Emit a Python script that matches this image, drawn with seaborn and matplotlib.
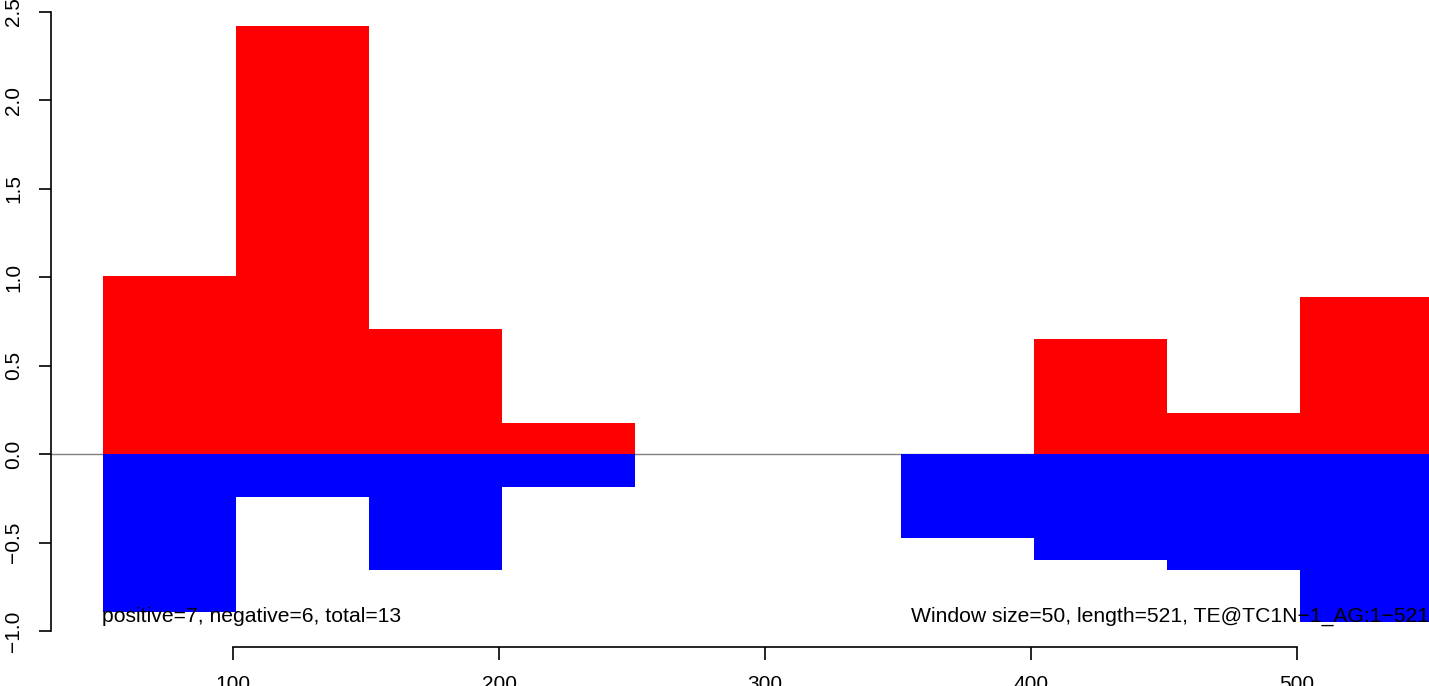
import numpy as np
import matplotlib
matplotlib.use("Agg")
import matplotlib.pyplot as plt
import seaborn as sns

# window centres (window size 50) and the summed scores per window
win_centers = [76, 126, 176, 226, 276, 326, 376, 426, 476, 526]
pos_scores = [1.005, 2.42, 0.705, 0.175, 0.0, 0.0, 0.0, 0.65, 0.23, 0.885]
neg_scores = [-0.89, -0.243, -0.654, -0.185, 0.0, 0.0, -0.476, -0.597, -0.654, -0.95]

x_ticks = [100, 200, 300, 400, 500]
y_ticks = [-1.0, -0.5, 0.0, 0.5, 1.0, 1.5, 2.0, 2.5]
y_tick_labels = ["\u22121.0", "\u22120.5", "0.0", "0.5", "1.0", "1.5", "2.0", "2.5"]

left_note = "positive=7, negative=6, total=13"
right_note = "Window size=50, length=521, TE@TC1N\u22121_AG:1\u2212521"

sns.set_style("white")
plt.rcParams["font.family"] = ["Liberation Sans", "DejaVu Sans"]
plt.rcParams["text.color"] = "black"

W, H = 1429, 686
fig = plt.figure(figsize=(W / 100, H / 100), dpi=100)
# plot region in pixels (R style, part of it runs past the right edge)
l_px, r_px, t_px, b_px = 51, 1483, 2, 647
ax = fig.add_axes([l_px / W, 1 - b_px / H, (r_px - l_px) / W, (b_px - t_px) / H])

ax.axhline(0, color="#808080", lw=1, zorder=0)
sns.barplot(x=win_centers, y=pos_scores, native_scale=True, width=1, color="#FF0000",
            saturation=1, linewidth=0, errorbar=None, ax=ax)
sns.barplot(x=win_centers, y=neg_scores, native_scale=True, width=1, color="#0000FF",
            saturation=1, linewidth=0, errorbar=None, ax=ax)

ax.set_xlim(31.4, 569.9)
ax.set_ylim(-1.09, 2.554)

ax.set_xticks(x_ticks)
ax.set_xticklabels([str(v) for v in x_ticks])
ax.set_yticks(y_ticks)
ax.set_yticklabels(y_tick_labels, rotation=90, va="center")

for s in ["top", "right"]:
    ax.spines[s].set_visible(False)
ax.spines["left"].set_bounds(-1.0, 2.5)
ax.spines["bottom"].set_bounds(100, 500)
for s in ["left", "bottom"]:
    ax.spines[s].set_linewidth(1.2)
    ax.spines[s].set_color("black")
ax.tick_params(axis="both", direction="out", length=9, width=1.2, color="black",
               labelcolor="black", labelsize=15, pad=11, left=True, bottom=True)
ax.set_xlabel("")
ax.set_ylabel("")

ax.text(50.5, -0.95, left_note, ha="left", va="baseline", fontsize=15.2, zorder=5)
ax.text(549.6, -0.95, right_note, ha="right", va="baseline", fontsize=15.2, zorder=5)

fig.savefig("out.png", dpi=100)
